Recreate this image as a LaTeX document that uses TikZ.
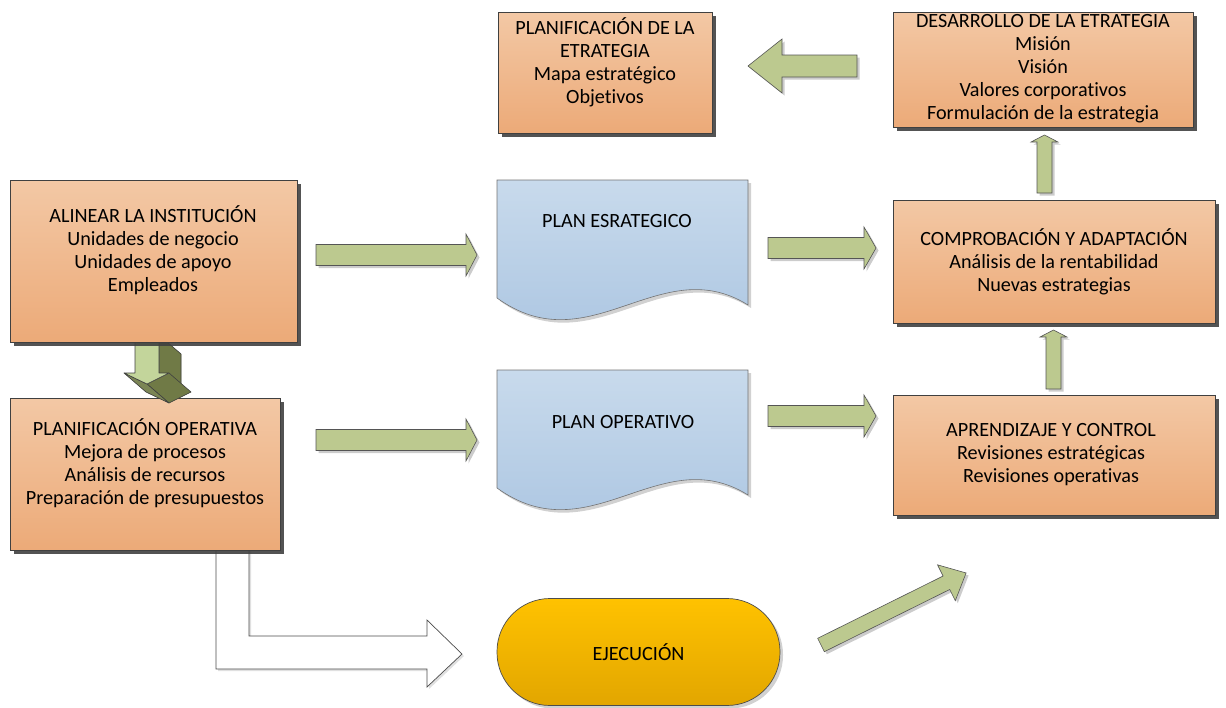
\documentclass[tikz,border=0pt]{standalone}
\usepackage{fontspec}
\setmainfont{Carlito}[RawFeature={-liga}]
\usetikzlibrary{shadows}
\definecolor{boxtop}{RGB}{243,200,165}
\definecolor{boxbot}{RGB}{236,170,120}
\definecolor{doctop}{RGB}{200,218,236}
\definecolor{docbot}{RGB}{168,195,224}
\definecolor{ejtop}{RGB}{255,194,0}
\definecolor{ejbot}{RGB}{226,166,0}
\definecolor{agreen}{RGB}{188,201,143}
\definecolor{aline}{RGB}{85,85,85}
\definecolor{dgreen}{RGB}{112,122,70}
\definecolor{lgreen}{RGB}{195,213,155}
\begin{document}
\begin{tikzpicture}[x=1pt,y=-1pt,
  font=\fontsize{20.2}{23}\selectfont,
  box/.style={draw=black!75, line width=0.8pt, top color=boxtop, bottom color=boxbot,
    inner sep=0pt, drop shadow={shadow xshift=4pt, shadow yshift=-4pt, fill=black!75, opacity=0.9}},
  txt/.style={align=center, inner sep=0pt, text=black},
  doc/.style={draw=black!55, line width=0.6pt, top color=doctop, bottom color=docbot,
    drop shadow={shadow xshift=3pt, shadow yshift=-3pt, fill=black!18, opacity=1}},
  ej/.style={draw=black!70, line width=0.7pt, top color=ejtop, bottom color=ejbot, inner sep=0pt,
    drop shadow={shadow xshift=3pt, shadow yshift=-3pt, fill=black!18, opacity=1}},
  garrow/.style={fill=agreen, draw=aline, line width=0.6pt,
    drop shadow={shadow xshift=2.5pt, shadow yshift=-2.5pt, fill=black!20, opacity=1}},
  warrow/.style={fill=white, draw=black!70, line width=0.7pt,
    drop shadow={shadow xshift=2pt, shadow yshift=-2pt, fill=black!12, opacity=1}},
  face/.style={draw=black!75, line width=0.6pt, line join=round}]
\useasboundingbox (0,0) rectangle (1226,707);

% ---- top row
\node[box, minimum width=214pt, minimum height=121pt] (pe) at (605,72.5) {};
\node[txt] (pet) at (605,62) {PLANIFICACIÓN DE LA\\ETRATEGIA\\Mapa estratégico\\Objetivos};

\node[box, minimum width=300pt, minimum height=115pt] (de) at (1043,69.5) {};
\node[txt] (det) at (1043,69) {DESARROLLO DE LA ETRATEGIA\\Misión\\Visión\\Valores corporativos\\Formulación de la estrategia};

% ---- right column
\node[box, minimum width=322pt, minimum height=123pt] (co) at (1054,261.5) {};
\node[txt] (cot) at (1054,262) {COMPROBACIÓN Y ADAPTACIÓN\\Análisis de la rentabilidad\\Nuevas estrategias};

\node[box, minimum width=322pt, minimum height=120pt] (ap) at (1054,455) {};
\node[txt] (apt) at (1051,455) {APRENDIZAJE Y CONTROL\\Revisiones estratégicas\\Revisiones operativas};

% ---- white bent arrow (behind planificación operativa)
\draw[warrow] (216,545) -- (216,669) -- (427,669) -- (427,687) -- (462,654)
  -- (427,620) -- (427,636) -- (249,636) -- (249,545) -- cycle;

% ---- left column
\node[box, minimum width=270pt, minimum height=152pt] (po) at (145,474) {};
\node[txt] (pot) at (145,463) {PLANIFICACIÓN OPERATIVA\\Mejora de procesos\\Análisis de recursos\\Preparación de presupuestos};

% 3D down arrow
\fill[dgreen] (159,335) -- (181,354) -- (181,392) -- (191,392) -- (169,403) -- (146,392) -- (124,373) -- (135,373) -- (135,335) -- cycle;
\draw[face, fill=dgreen] (159,335) -- (181,354) -- (181,392) -- (159,373) -- cycle;
\draw[face, fill=dgreen] (169,373) -- (191,392) -- (169,403) -- (147,384) -- cycle;
\draw[face, fill=dgreen!92!white] (124,373) -- (147,384) -- (169,403) -- (146,392) -- cycle;
\draw[face, fill=lgreen] (135,335) -- (159,335) -- (159,373) -- (169,373) -- (147,384) -- (124,373) -- (135,373) -- cycle;

\node[box, minimum width=287pt, minimum height=162pt] (al) at (153.5,261) {};
\node[txt] (alt) at (153,250) {ALINEAR LA INSTITUCIÓN\\Unidades de negocio\\Unidades de apoyo\\Empleados};

% ---- documents
\path[doc] (497,180) -- (748,180) -- (748,305) .. controls (660,250) and (590,365) .. (497,298) -- cycle;
\node[txt] (pes) at (617,221) {PLAN ESRATEGICO};
\path[doc] (497,370) -- (748,370) -- (748,495) .. controls (660,440) and (590,555) .. (497,488) -- cycle;
\node[txt] (pop) at (623,422) {PLAN OPERATIVO};

% ---- ejecución
\node[ej, minimum width=283pt, minimum height=107pt, rounded corners=53pt] (ej) at (638.5,652) {EJECUCIÓN};

% ---- green arrows
\draw[garrow] (316,244.5) -- (466,244.5) -- (466,234) -- (477,255) -- (466,276) -- (466,265.5) -- (316,265.5) -- cycle;
\draw[garrow] (316,429.5) -- (466,429.5) -- (466,419) -- (477,440) -- (466,461) -- (466,450.5) -- (316,450.5) -- cycle;
\draw[garrow] (768,237.5) -- (864,237.5) -- (864,227) -- (876,248) -- (864,269) -- (864,258.5) -- (768,258.5) -- cycle;
\draw[garrow] (768,405.5) -- (864,405.5) -- (864,395) -- (876,416) -- (864,437) -- (864,426.5) -- (768,426.5) -- cycle;
% top left arrow
\draw[garrow] (857,55) -- (782,55) -- (782,39) -- (748,66) -- (782,93) -- (782,77) -- (857,77) -- cycle;
% up arrows
\draw[garrow] (1037,193) -- (1037,142) -- (1031,142) -- (1044.5,135) -- (1058,142) -- (1052,142) -- (1052,193) -- cycle;
\draw[garrow] (1046,389) -- (1046,337) -- (1040,337) -- (1053.5,330) -- (1067,337) -- (1061,337) -- (1061,389) -- cycle;
% diagonal arrow
\begin{scope}[shift={(821,645)}, rotate=26.4]
\draw[garrow] (0,-7.5) -- (140,-7.5) -- (140,-20) -- (162,0) -- (140,20) -- (140,7.5) -- (0,7.5) -- cycle;
\end{scope}
\end{tikzpicture}
\end{document}
